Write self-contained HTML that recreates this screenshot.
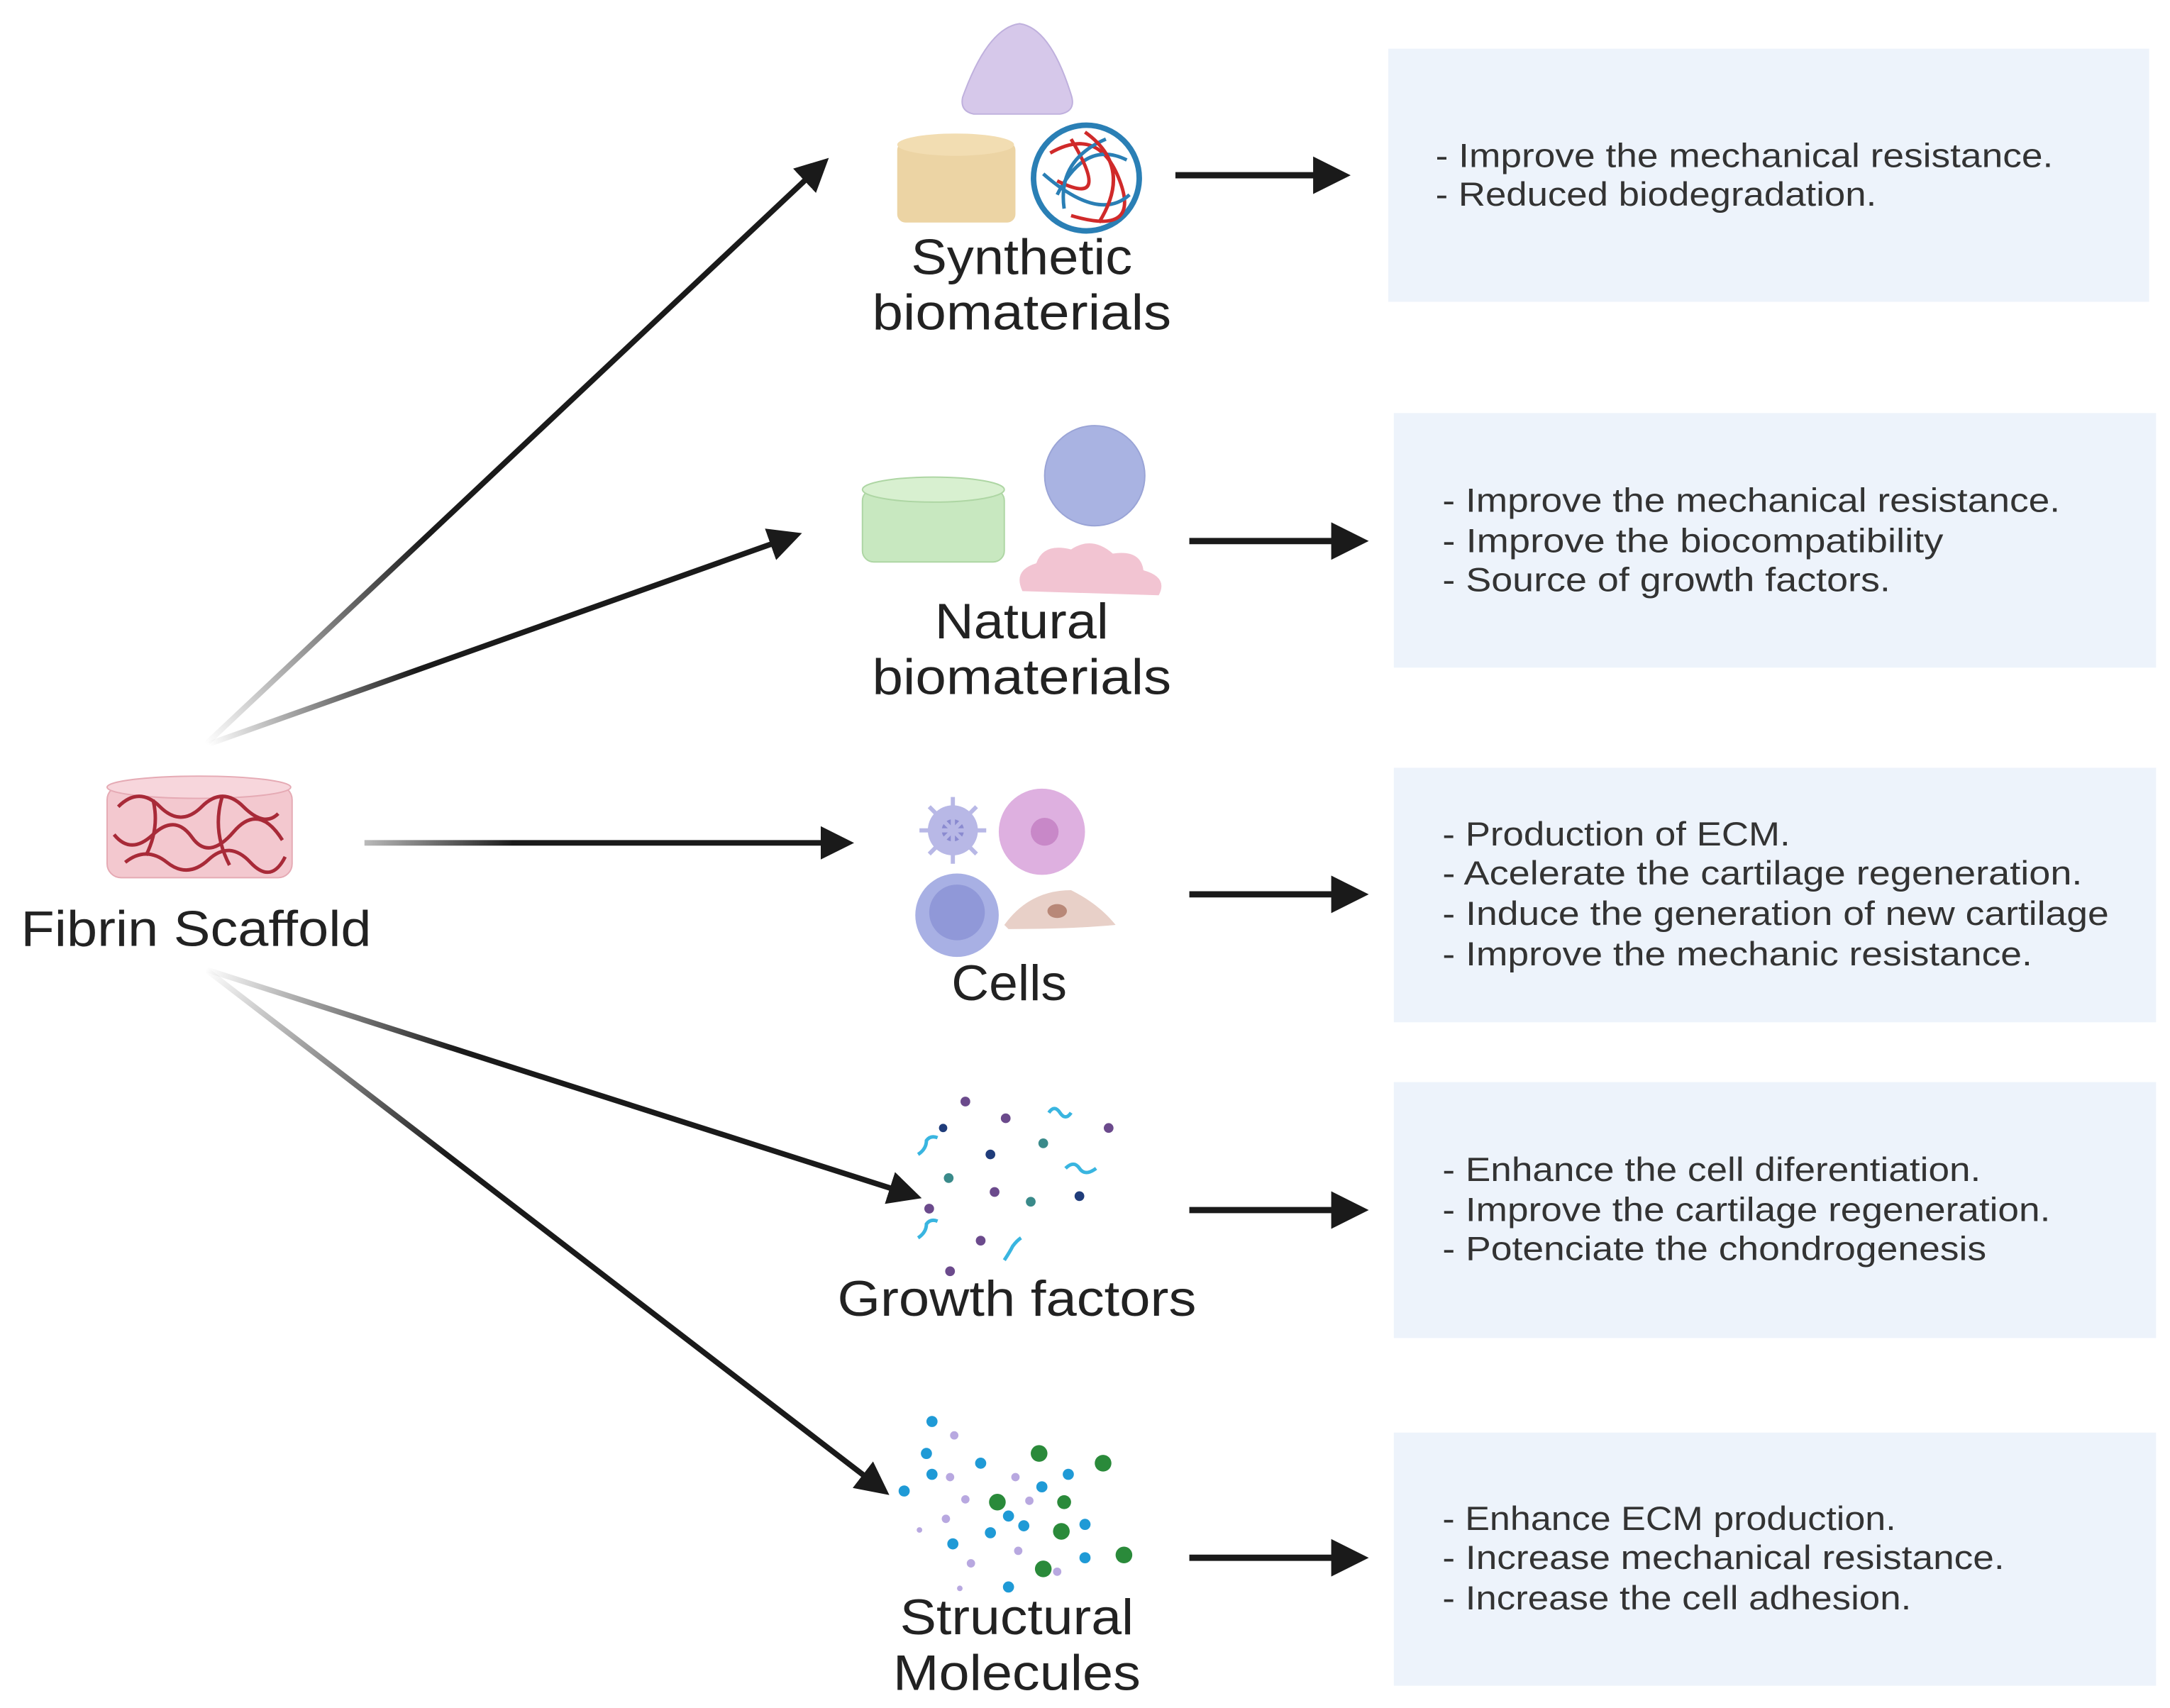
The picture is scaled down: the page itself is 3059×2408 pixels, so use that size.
<!DOCTYPE html>
<html><head><meta charset="utf-8"><style>
html,body{margin:0;padding:0;background:#fff;width:3059px;height:2408px;overflow:hidden}
svg{display:block}
.lb{font-family:"Liberation Sans",sans-serif;font-size:36px;fill:#222}
.bt{font-family:"Liberation Sans",sans-serif;font-size:24px;fill:#333}
</style></head><body>
<svg width="3059" height="2408" viewBox="0 0 1560 1228" xmlns="http://www.w3.org/2000/svg">
<defs>
<marker id="ah" markerWidth="6" markerHeight="6" refX="4" refY="3" orient="auto" markerUnits="strokeWidth"><path d="M0,0 L6,3 L0,6 Z" fill="#1a1a1a"/></marker>
<linearGradient id="g1" gradientUnits="userSpaceOnUse" x1="148" y1="535" x2="598" y2="112"><stop offset="0" stop-color="#1a1a1a" stop-opacity="0"/><stop offset="0.35" stop-color="#1a1a1a"/></linearGradient>
<linearGradient id="g2" gradientUnits="userSpaceOnUse" x1="150" y1="535" x2="578" y2="383"><stop offset="0" stop-color="#1a1a1a" stop-opacity="0"/><stop offset="0.35" stop-color="#1a1a1a"/></linearGradient>
<linearGradient id="g3" gradientUnits="userSpaceOnUse" x1="262" y1="606" x2="618" y2="606"><stop offset="0" stop-color="#1a1a1a" stop-opacity="0.3"/><stop offset="0.3" stop-color="#1a1a1a"/></linearGradient>
<linearGradient id="g4" gradientUnits="userSpaceOnUse" x1="148" y1="697" x2="665" y2="862"><stop offset="0" stop-color="#1a1a1a" stop-opacity="0"/><stop offset="0.35" stop-color="#1a1a1a"/></linearGradient>
<linearGradient id="g5" gradientUnits="userSpaceOnUse" x1="148" y1="697" x2="642" y2="1077"><stop offset="0" stop-color="#1a1a1a" stop-opacity="0"/><stop offset="0.35" stop-color="#1a1a1a"/></linearGradient>
</defs>

<rect x="998" y="35" width="547" height="182" fill="#edf3fb"/>
<rect x="1002" y="297" width="548" height="183" fill="#edf3fb"/>
<rect x="1002" y="552" width="548" height="183" fill="#edf3fb"/>
<rect x="1002" y="778" width="548" height="184" fill="#edf3fb"/>
<rect x="1002" y="1030" width="548" height="182" fill="#edf3fb"/>

<g class="bt" style="font-family:'Liberation Sans',sans-serif;font-size:24px;fill:#333">
<text x="1032" y="120" textLength="444" lengthAdjust="spacingAndGlyphs">- Improve the mechanical resistance.</text>
<text x="1032" y="148" textLength="317" lengthAdjust="spacingAndGlyphs">- Reduced biodegradation.</text>
<text x="1037" y="368" textLength="444" lengthAdjust="spacingAndGlyphs">- Improve the mechanical resistance.</text>
<text x="1037" y="397" textLength="360" lengthAdjust="spacingAndGlyphs">- Improve the biocompatibility</text>
<text x="1037" y="425" textLength="322" lengthAdjust="spacingAndGlyphs">- Source of growth factors.</text>
<text x="1037" y="608" textLength="250" lengthAdjust="spacingAndGlyphs">- Production of ECM.</text>
<text x="1037" y="636" textLength="460" lengthAdjust="spacingAndGlyphs">- Acelerate  the cartilage regeneration.</text>
<text x="1037" y="665" textLength="479" lengthAdjust="spacingAndGlyphs">- Induce the generation of new cartilage</text>
<text x="1037" y="694" textLength="424" lengthAdjust="spacingAndGlyphs">- Improve the mechanic resistance.</text>
<text x="1037" y="849" textLength="387" lengthAdjust="spacingAndGlyphs">- Enhance the cell diferentiation.</text>
<text x="1037" y="878" textLength="437" lengthAdjust="spacingAndGlyphs">- Improve the cartilage regeneration.</text>
<text x="1037" y="906" textLength="391" lengthAdjust="spacingAndGlyphs">- Potenciate the chondrogenesis</text>
<text x="1037" y="1100" textLength="326" lengthAdjust="spacingAndGlyphs">- Enhance ECM production.</text>
<text x="1037" y="1128" textLength="404" lengthAdjust="spacingAndGlyphs">- Increase mechanical resistance.</text>
<text x="1037" y="1157" textLength="337" lengthAdjust="spacingAndGlyphs">- Increase the cell adhesion.</text>
</g>

<g stroke="#1a1a1a" stroke-width="4.5" marker-end="url(#ah)">
<line x1="845" y1="126" x2="962" y2="126"/>
<line x1="855" y1="389" x2="975" y2="389"/>
<line x1="855" y1="643" x2="975" y2="643"/>
<line x1="855" y1="870" x2="975" y2="870"/>
<line x1="855" y1="1120" x2="975" y2="1120"/>
</g>

<g stroke-width="4" marker-end="url(#ah)" fill="none">
<line x1="148" y1="535" x2="590" y2="119" stroke="url(#g1)"/>
<line x1="150" y1="535" x2="569" y2="386" stroke="url(#g2)"/>
<line x1="262" y1="606" x2="606" y2="606" stroke="url(#g3)"/>
<line x1="148" y1="697" x2="655" y2="859" stroke="url(#g4)"/>
<line x1="148" y1="697" x2="633" y2="1070" stroke="url(#g5)"/>
</g>

<g class="lb">
<text x="655" y="197" textLength="159" lengthAdjust="spacingAndGlyphs">Synthetic</text>
<text x="627" y="237" textLength="215" lengthAdjust="spacingAndGlyphs">biomaterials</text>
<text x="672" y="459" textLength="125" lengthAdjust="spacingAndGlyphs">Natural</text>
<text x="627" y="499" textLength="215" lengthAdjust="spacingAndGlyphs">biomaterials</text>
<text x="684" y="719" textLength="83" lengthAdjust="spacingAndGlyphs">Cells</text>
<text x="602" y="946" textLength="258" lengthAdjust="spacingAndGlyphs">Growth factors</text>
<text x="647" y="1175" textLength="168" lengthAdjust="spacingAndGlyphs">Structural</text>
<text x="642" y="1215" textLength="178" lengthAdjust="spacingAndGlyphs">Molecules</text>
<text x="15" y="680" textLength="252" lengthAdjust="spacingAndGlyphs">Fibrin Scaffold</text>
</g>

<path d="M692,70 Q690,80 700,82 L762,82 Q774,80 770,68 Q755,20 733,17 Q710,20 692,70 Z" fill="#d6c8ea" stroke="#bfb0dd"/>
<rect x="645" y="102" width="85" height="58" rx="6" fill="#ecd4a4"/>
<ellipse cx="687" cy="104" rx="42" ry="8" fill="#f2ddb2"/>
<circle cx="781" cy="128" r="38" fill="#fff" stroke="#2a7fb5" stroke-width="4"/>
<g fill="none" stroke-width="2.5"><path d="M755,110 Q790,90 805,130 T770,155" stroke="#d02a2a"/><path d="M760,140 Q780,100 810,115" stroke="#2a7fb5"/><path d="M770,100 Q800,150 760,130" stroke="#d02a2a"/><path d="M750,125 Q790,160 812,140" stroke="#2a7fb5"/><path d="M765,150 Q760,115 795,100" stroke="#2a7fb5"/><path d="M790,160 Q815,120 780,95" stroke="#d02a2a"/></g>

<rect x="620" y="352" width="102" height="52" rx="8" fill="#c8e8c0" stroke="#aed6a4"/>
<ellipse cx="671" cy="352" rx="51" ry="9" fill="#d8f0d0" stroke="#aed6a4"/>
<circle cx="787" cy="342" r="36" fill="#a9b3e2" stroke="#9aa4d6"/>
<path d="M735,425 Q728,410 745,405 Q750,390 770,395 Q785,385 800,398 Q820,395 822,410 Q840,415 833,428 Z" fill="#f2c4d2"/>

<circle cx="685" cy="597" r="18" fill="#b8b8e6"/><circle cx="685" cy="597" r="8" fill="#8a8ad0"/>
<g stroke="#b8b8e6" stroke-width="3"><line x1="685" y1="573" x2="685" y2="621"/><line x1="661" y1="597" x2="709" y2="597"/><line x1="668" y1="580" x2="702" y2="614"/><line x1="702" y1="580" x2="668" y2="614"/></g>
<circle cx="749" cy="598" r="31" fill="#deb0e0"/><circle cx="751" cy="598" r="10" fill="#c888c8"/>
<circle cx="688" cy="658" r="30" fill="#a8b0e4"/><circle cx="688" cy="656" r="20" fill="#9098d8"/>
<path d="M722,665 Q740,640 770,640 Q790,650 802,665 Q770,668 725,668 Z" fill="#e8d0c8"/><ellipse cx="760" cy="655" rx="7" ry="5" fill="#b88878"/>

<g fill="#6b4a8c"><circle cx="694" cy="792" r="3.5"/><circle cx="723" cy="804" r="3.5"/><circle cx="797" cy="811" r="3.5"/><circle cx="668" cy="869" r="3.5"/><circle cx="715" cy="857" r="3.5"/><circle cx="705" cy="892" r="3.5"/><circle cx="683" cy="914" r="3.5"/></g>
<g fill="#1f3c7a"><circle cx="678" cy="811" r="3"/><circle cx="712" cy="830" r="3.5"/><circle cx="776" cy="860" r="3.5"/></g>
<g fill="#3a8a8a"><circle cx="750" cy="822" r="3.5"/><circle cx="682" cy="847" r="3.5"/><circle cx="741" cy="864" r="3.5"/></g>
<g fill="none" stroke="#39b5e0" stroke-width="2.5"><path d="M754,800 q4,-6 8,0 q4,6 8,0"/><path d="M660,830 q6,-4 6,-10 q3,-4 8,-2"/><path d="M766,840 q6,-6 10,0 q4,6 12,0"/><path d="M660,890 q6,-4 6,-10 q3,-4 8,-2"/><path d="M722,906 q4,-6 6,-10 q3,-4 6,-6"/></g>

<g fill="#1f9ad6"><circle cx="670" cy="1022" r="4"/><circle cx="666" cy="1045" r="4"/><circle cx="705" cy="1052" r="4"/><circle cx="650" cy="1072" r="4"/><circle cx="670" cy="1060" r="4"/><circle cx="749" cy="1069" r="4"/><circle cx="768" cy="1060" r="4"/><circle cx="725" cy="1090" r="4"/><circle cx="685" cy="1110" r="4"/><circle cx="712" cy="1102" r="4"/><circle cx="736" cy="1097" r="4"/><circle cx="780" cy="1096" r="4"/><circle cx="780" cy="1120" r="4"/><circle cx="725" cy="1141" r="4"/></g>
<g fill="#2a8a3a"><circle cx="747" cy="1045" r="6"/><circle cx="793" cy="1052" r="6"/><circle cx="717" cy="1080" r="6"/><circle cx="763" cy="1101" r="6"/><circle cx="808" cy="1118" r="6"/><circle cx="750" cy="1128" r="6"/><circle cx="765" cy="1080" r="5"/></g>
<g fill="#b8a8e0"><circle cx="686" cy="1032" r="3"/><circle cx="683" cy="1062" r="3"/><circle cx="694" cy="1078" r="3"/><circle cx="730" cy="1062" r="3"/><circle cx="740" cy="1079" r="3"/><circle cx="732" cy="1115" r="3"/><circle cx="680" cy="1092" r="3"/><circle cx="698" cy="1124" r="3"/><circle cx="760" cy="1130" r="3"/><circle cx="661" cy="1100" r="2"/><circle cx="690" cy="1142" r="2"/></g>

<rect x="77" y="565" width="133" height="66" rx="10" fill="#f3c8cf" stroke="#e5aab4"/>
<ellipse cx="143" cy="566" rx="66" ry="8" fill="#f7d6dc" stroke="#e5aab4"/>
<g fill="none" stroke="#a82a38" stroke-width="2.5"><path d="M85,580 q15,-15 30,0 t30,0 t30,0 t25,5"/><path d="M82,600 q12,15 28,0 t28,2 t30,-4 t35,6"/><path d="M90,620 q15,-12 30,0 t30,-2 t30,2 t25,-4"/><path d="M110,575 q5,20 -5,40"/><path d="M160,572 q-8,25 5,50"/></g>
</svg>
</body></html>
